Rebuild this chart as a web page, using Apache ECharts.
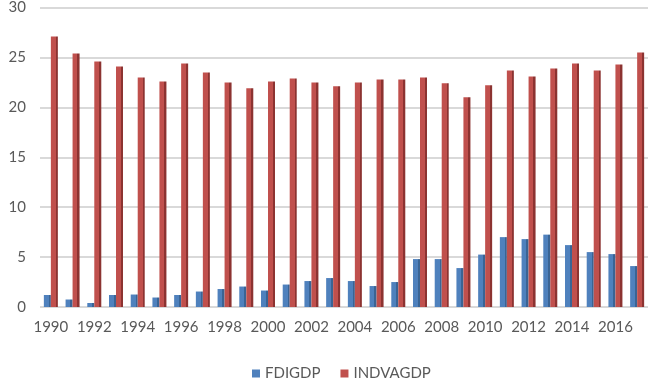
<!DOCTYPE html>
<html><head><meta charset="utf-8">
<script src="https://cdn.jsdelivr.net/npm/echarts@6/dist/echarts.min.js"></script>
<style>html,body{margin:0;padding:0;background:#fff}#c{width:670px;height:387px}</style>
</head><body><div id="c"></div>
<script>
var years = ['1990','1991','1992','1993','1994','1995','1996','1997','1998','1999','2000','2001','2002','2003','2004','2005','2006','2007','2008','2009','2010','2011','2012','2013','2014','2015','2016','2017'];
var fdigdp = [1.2,0.75,0.4,1.2,1.25,0.95,1.2,1.55,1.8,2.05,1.65,2.25,2.6,2.9,2.6,2.1,2.5,4.8,4.8,3.9,5.25,7.0,6.8,7.25,6.2,5.5,5.3,4.1];
var indvagdp = [27.1,25.4,24.6,24.1,23.0,22.6,24.4,23.5,22.5,21.9,22.6,22.9,22.5,22.1,22.5,22.8,22.8,23.0,22.4,21.0,22.2,23.7,23.1,23.9,24.4,23.7,24.3,25.5];
var yTicks = {min:0, max:30, interval:5};

function grad(front, side){
  return {type:'linear',x:0,y:0,x2:1,y2:0,colorStops:[
    {offset:0,color:front},{offset:0.7,color:front},{offset:0.7,color:side},{offset:1,color:side}]};
}
var chart = echarts.init(document.getElementById('c'));
chart.setOption({
  animation:false,
  textStyle:{fontFamily:'Lato'},
  grid:{left:40,right:22,top:7,bottom:80},
  legend:{bottom:1,left:247,itemWidth:8,itemHeight:8,itemGap:20,icon:'rect',
    textStyle:{fontSize:15,color:'#595959',fontFamily:'Lato'},
    data:[{name:'FDIGDP',itemStyle:{color:'#4f81bd'}},{name:'INDVAGDP',itemStyle:{color:'#c0504d'}}]},
  xAxis:{type:'category',data:years,
    axisLine:{show:false},axisTick:{show:false},
    axisLabel:{interval:1,fontSize:15,color:'#595959',margin:13,fontFamily:'Lato'}},
  yAxis:{type:'value',min:yTicks.min,max:yTicks.max,interval:yTicks.interval,
    axisLine:{show:false},axisTick:{show:false},
    axisLabel:{fontSize:15,color:'#595959',margin:14,fontFamily:'Lato'},
    splitLine:{lineStyle:{color:'#d9d9d9',width:2}}},
  series:[
    {name:'FDIGDP',type:'bar',data:fdigdp,barWidth:7,barGap:'0%',
      itemStyle:{color:grad('#4f81bd','#3a6494')}},
    {name:'INDVAGDP',type:'bar',data:indvagdp,barWidth:7,barGap:'0%',
      itemStyle:{color:grad('#c0504d','#8c3331')}}
  ]
});
</script></body></html>
